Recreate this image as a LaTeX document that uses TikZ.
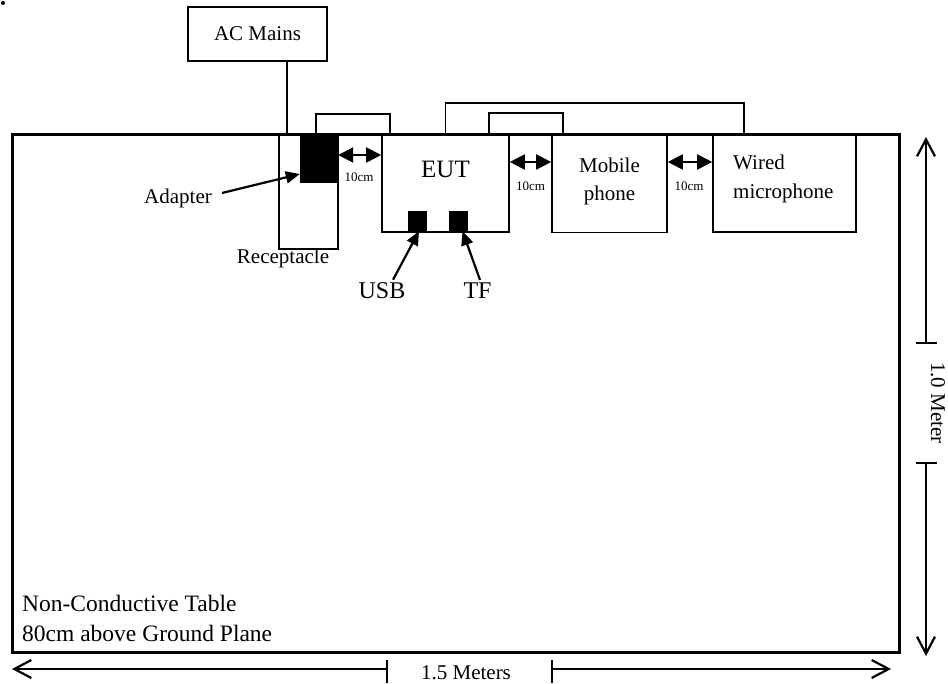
\documentclass[tikz,border=0pt]{standalone}
\usepackage{fontspec}
\setmainfont{Liberation Serif}
\usetikzlibrary{arrows.meta,positioning}

\begin{document}
\begin{tikzpicture}[
  x=1pt, y=-1pt,
  box/.style={draw, line width=1.6pt, inner sep=0pt},
  blk/.style={fill=black, inner sep=0pt},
  txt/.style={inner sep=0pt, font=\fontsize{21}{28}\selectfont},
  small/.style={inner sep=0pt, font=\fontsize{13}{15}\selectfont},
  cable/.style={line width=1.6pt},
  gap/.style={{Triangle[length=15pt,width=15pt]}-{Triangle[length=15pt,width=15pt]}, line width=2pt},
  pointer/.style={-{Triangle[length=14pt,width=12pt]}, line width=2.2pt},
  dim/.style={-{Straight Barb[length=17pt,width=18pt,line width=2.2pt]}, line width=1.5pt},
  tick/.style={line width=1.5pt}
]
\useasboundingbox (0,0) rectangle (948,684);
\fill (3,3) circle (2pt);

% table
\node[box, line width=3pt, minimum width=887pt, minimum height=517pt] (table) at (455.5,393.5) {};
\node[txt, font=\fontsize{23.5}{30}\selectfont, align=left, anchor=north west] (tablelbl) at (22,595)
  {Non-Conductive Table\\80cm above Ground Plane};

% mains and adapter
\node[box, txt, draw, line width=1.6pt, minimum width=139pt, minimum height=54pt] (acmains) at (257.5,34) {AC Mains};
\node[box, minimum width=59pt, minimum height=114pt] (recept) at (308.5,192) {};
\node[txt, anchor=north] (receptlbl) at (283,249) {Receptacle};
\node[blk, minimum width=38pt, minimum height=48pt] (adapter) at (319,159) {};
\node[txt] (adapterlbl) at (178,198) {Adapter};
\draw[pointer] ([xshift=10pt,yshift=5pt]adapterlbl.east) -- ([yshift=-15pt]adapter.west);
\coordinate (mainsdrop) at (287,135);
\draw[cable] (acmains.south -| mainsdrop) -- (mainsdrop);

% EUT
\node[box, minimum width=127pt, minimum height=97pt] (eut) at (445.5,183.5) {};
\node[txt, font=\fontsize{25}{30}\selectfont, below=26.5pt of eut.north] (eutlbl) {EUT};
\node[blk, minimum width=19pt, minimum height=20pt] (usb) at (417.5,221) {};
\node[blk, minimum width=19pt, minimum height=20pt] (tf) at (458.5,221) {};
\node[txt, font=\fontsize{24}{28}\selectfont] (usblbl) at (382,291) {USB};
\node[txt, font=\fontsize{24}{28}\selectfont] (tflbl) at (477.5,291) {TF};
\draw[pointer] ([xshift=11pt,yshift=3pt]usblbl.north) -- ([xshift=1.5pt]usb.south);
\draw[pointer] ([xshift=2.5pt,yshift=3pt]tflbl.north) -- ([xshift=4pt]tf.south);

% mobile phone and microphone
\node[box, minimum width=115pt, minimum height=97pt] (mobile) at (609.5,184) {};
\node[txt, align=center] (mobilelbl) at (609.5,181) {Mobile\\phone};
\node[box, minimum width=143pt, minimum height=97pt] (wired) at (784.5,183.5) {};
\node[txt, align=left, anchor=north west, font=\fontsize{21}{29}\selectfont] (wiredlbl) at (733,155) {Wired\\microphone};

% spacing
\draw[gap] ([yshift=4pt]adapter.east) -- ([yshift=28.5pt]eut.west);
\node[small] (gapa) at (359,177) {10cm};
\draw[gap] ([yshift=21.5pt]eut.east) -- ([yshift=22pt]mobile.west);
\node[small] (gapb) at (530.5,186) {10cm};
\draw[gap] ([yshift=22pt]mobile.east) -- ([yshift=21.5pt]wired.west);
\node[small] (gapc) at (689,186) {10cm};

% cables
\draw[cable] (adapter.north -| 316,0) -- ++(0,-21) -| (eut.north -| 390,0);
\draw[cable] (eut.north -| 489,0) -- ++(0,-21) -| (mobile.north -| 563,0);
\draw[cable] (eut.north) -- ++(0,-31) -| (wired.north -| 744,0);

% dimensions
\coordinate (hleft) at (12,669);
\coordinate (hright) at (891,669);
\coordinate (htick1) at (387,669);
\coordinate (htick2) at (552,669);
\node[txt] (widthlbl) at (466,673) {1.5 Meters};
\draw[dim] (htick1) -- (hleft);
\draw[dim] (htick2) -- (hright);
\draw[tick] ([yshift=9pt]htick1) -- ([yshift=-14pt]htick1);
\draw[tick] ([yshift=9pt]htick2) -- ([yshift=-14pt]htick2);

\coordinate (vtop) at (926,137);
\coordinate (vbottom) at (926,656);
\coordinate (vtick1) at (926,343);
\coordinate (vtick2) at (926,463);
\node[txt, rotate=-90] (heightlbl) at (938,403) {1.0 Meter};
\draw[dim] (vtick1) -- (vtop);
\draw[dim] (vtick2) -- (vbottom);
\draw[tick] ([xshift=-10.5pt]vtick1) -- ([xshift=10.5pt]vtick1);
\draw[tick] ([xshift=-10.5pt]vtick2) -- ([xshift=10.5pt]vtick2);
\end{tikzpicture}
\end{document}
